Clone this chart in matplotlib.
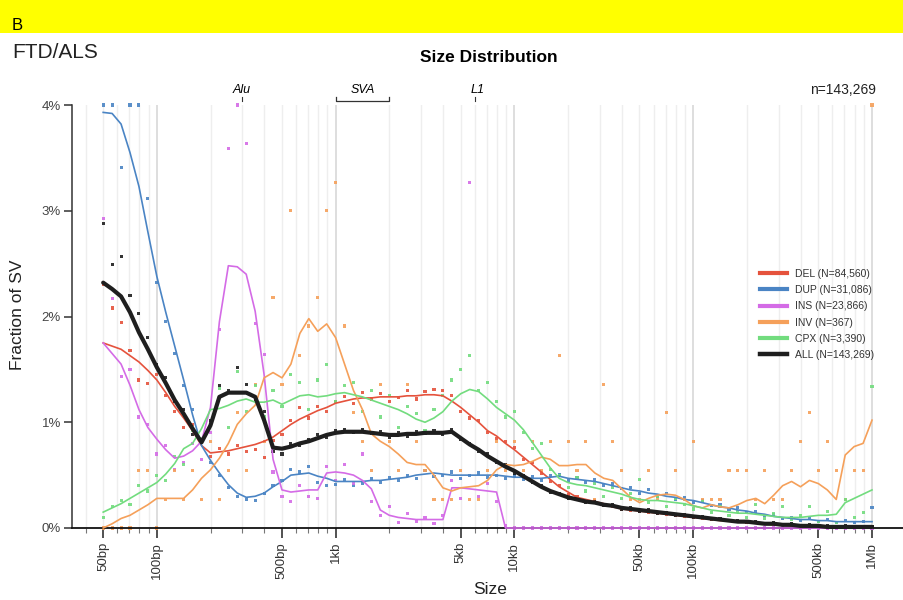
import numpy as np
import matplotlib
matplotlib.use("Agg")
import matplotlib.pyplot as plt
from matplotlib.patches import Rectangle
from matplotlib.lines import Line2D
from matplotlib.transforms import blended_transform_factory

plt.rcParams['font.family'] = ['Liberation Sans', 'DejaVu Sans']

# ---------------- data ----------------
log_size = [1.70, 1.75, 1.80, 1.85, 1.90, 1.95, 2.00, 2.05, 2.10, 2.15,
            2.20, 2.25, 2.30, 2.35, 2.40, 2.45, 2.50, 2.55, 2.60, 2.65,
            2.70, 2.75, 2.80, 2.85, 2.90, 2.95, 3.00, 3.05, 3.10, 3.15,
            3.20, 3.25, 3.30, 3.35, 3.40, 3.45, 3.50, 3.55, 3.60, 3.65,
            3.70, 3.75, 3.80, 3.85, 3.90, 3.95, 4.00, 4.05, 4.10, 4.15,
            4.20, 4.25, 4.30, 4.35, 4.40, 4.45, 4.50, 4.55, 4.60, 4.65,
            4.70, 4.75, 4.80, 4.85, 4.90, 4.95, 5.00, 5.05, 5.10, 5.15,
            5.20, 5.25, 5.30, 5.35, 5.40, 5.45, 5.50, 5.55, 5.60, 5.65,
            5.70, 5.75, 5.80, 5.85, 5.90, 5.95, 6.00]

del_line = [1.75, 1.72, 1.69, 1.63, 1.57, 1.49, 1.40, 1.28, 1.15, 1.04,
            0.92, 0.78, 0.71, 0.72, 0.73, 0.75, 0.77, 0.79, 0.82, 0.86,
            0.92, 0.98, 1.03, 1.07, 1.11, 1.14, 1.18, 1.20, 1.22, 1.23,
            1.23, 1.24, 1.24, 1.24, 1.25, 1.25, 1.26, 1.26, 1.25, 1.20,
            1.14, 1.07, 1.00, 0.92, 0.87, 0.80, 0.74, 0.67, 0.60, 0.53,
            0.46, 0.39, 0.34, 0.29, 0.27, 0.25, 0.23, 0.20, 0.18, 0.17,
            0.16, 0.15, 0.14, 0.13, 0.12, 0.11, 0.10, 0.09, 0.08, 0.07,
            0.07, 0.06, 0.05, 0.05, 0.04, 0.03, 0.03, 0.02, 0.02, 0.02,
            0.01, 0.01, 0.01, 0.01, 0.01, 0.01, 0.01]
dup_line = [3.93, 3.92, 3.82, 3.55, 3.23, 2.80, 2.38, 2.04, 1.72, 1.40,
            1.07, 0.78, 0.64, 0.52, 0.41, 0.33, 0.29, 0.30, 0.33, 0.39,
            0.44, 0.50, 0.51, 0.52, 0.49, 0.47, 0.44, 0.44, 0.44, 0.44,
            0.45, 0.45, 0.46, 0.47, 0.48, 0.50, 0.51, 0.52, 0.51, 0.50,
            0.50, 0.50, 0.50, 0.50, 0.50, 0.49, 0.48, 0.48, 0.47, 0.47,
            0.48, 0.49, 0.47, 0.46, 0.45, 0.44, 0.42, 0.40, 0.38, 0.36,
            0.35, 0.33, 0.32, 0.30, 0.29, 0.27, 0.26, 0.24, 0.22, 0.20,
            0.19, 0.17, 0.16, 0.14, 0.13, 0.11, 0.10, 0.09, 0.08, 0.08,
            0.07, 0.07, 0.06, 0.06, 0.06, 0.06, 0.06]
ins_line = [1.75, 1.65, 1.55, 1.35, 1.12, 0.95, 0.84, 0.74, 0.66, 0.68,
            0.73, 0.82, 1.14, 1.95, 2.48, 2.47, 2.40, 2.05, 1.45, 0.65,
            0.36, 0.34, 0.35, 0.36, 0.36, 0.52, 0.53, 0.52, 0.50, 0.45,
            0.37, 0.17, 0.12, 0.10, 0.09, 0.08, 0.08, 0.08, 0.08, 0.38,
            0.38, 0.37, 0.36, 0.35, 0.34, 0.00, 0.00, 0.00, 0.00, 0.00,
            0.00, 0.00, 0.00, 0.00, 0.00, 0.00, 0.00, 0.00, 0.00, 0.00,
            0.00, 0.00, 0.00, 0.00, 0.00, 0.00, 0.00, 0.00, 0.00, 0.00,
            0.00, 0.00, 0.00, 0.00, 0.00, 0.00, 0.00, 0.00, 0.00, 0.00,
            0.00, 0.00, 0.00, 0.00, 0.00, 0.00, 0.00]
inv_line = [0.00, 0.04, 0.09, 0.12, 0.17, 0.22, 0.28, 0.28, 0.28, 0.28,
            0.36, 0.47, 0.55, 0.66, 0.80, 0.98, 1.08, 1.16, 1.42, 1.47,
            1.42, 1.55, 1.84, 1.98, 1.86, 1.93, 1.80, 1.55, 1.30, 1.12,
            0.89, 0.82, 0.77, 0.70, 0.62, 0.60, 0.60, 0.50, 0.38, 0.35,
            0.38, 0.39, 0.40, 0.45, 0.55, 0.60, 0.59, 0.60, 0.63, 0.67,
            0.65, 0.59, 0.59, 0.60, 0.60, 0.52, 0.47, 0.45, 0.37, 0.29,
            0.24, 0.28, 0.31, 0.32, 0.31, 0.27, 0.21, 0.19, 0.22, 0.20,
            0.19, 0.22, 0.26, 0.28, 0.23, 0.31, 0.40, 0.44, 0.39, 0.45,
            0.42, 0.36, 0.27, 0.69, 0.77, 0.80, 1.02]
cpx_line = [0.15, 0.19, 0.23, 0.28, 0.33, 0.38, 0.43, 0.51, 0.61, 0.75,
            0.80, 0.94, 1.12, 1.13, 1.16, 1.20, 1.22, 1.19, 1.19, 1.21,
            1.17, 1.21, 1.25, 1.26, 1.24, 1.25, 1.27, 1.28, 1.26, 1.24,
            1.21, 1.18, 1.15, 1.12, 1.08, 1.03, 1.00, 1.04, 1.10, 1.20,
            1.27, 1.31, 1.29, 1.22, 1.14, 1.08, 1.02, 0.93, 0.81, 0.69,
            0.57, 0.47, 0.43, 0.41, 0.40, 0.38, 0.36, 0.34, 0.32, 0.29,
            0.27, 0.26, 0.26, 0.25, 0.24, 0.23, 0.21, 0.19, 0.17, 0.16,
            0.15, 0.14, 0.14, 0.13, 0.12, 0.11, 0.10, 0.10, 0.10, 0.11,
            0.12, 0.12, 0.13, 0.24, 0.28, 0.32, 0.36]
all_line = [2.32, 2.26, 2.19, 2.04, 1.85, 1.69, 1.52, 1.37, 1.21, 1.08,
            0.94, 0.81, 0.97, 1.24, 1.28, 1.28, 1.28, 1.24, 1.02, 0.76,
            0.75, 0.77, 0.80, 0.82, 0.85, 0.88, 0.90, 0.91, 0.91, 0.91,
            0.90, 0.89, 0.88, 0.88, 0.89, 0.89, 0.90, 0.90, 0.90, 0.91,
            0.85, 0.79, 0.74, 0.68, 0.63, 0.58, 0.54, 0.49, 0.44, 0.39,
            0.35, 0.32, 0.29, 0.27, 0.25, 0.24, 0.22, 0.21, 0.19, 0.18,
            0.17, 0.16, 0.15, 0.14, 0.13, 0.12, 0.11, 0.10, 0.09, 0.08,
            0.07, 0.06, 0.06, 0.05, 0.04, 0.04, 0.03, 0.03, 0.02, 0.02,
            0.02, 0.01, 0.01, 0.01, 0.01, 0.01, 0.01]

del_dots = [2.30, 2.08, 1.94, 1.68, 1.40, 1.37, 1.45, 1.25, 1.10, 0.95,
            0.98, 0.83, 0.68, 0.75, 0.70, 0.78, 0.72, 0.74, 0.67, 0.83,
            0.88, 1.02, 1.14, 1.04, 1.15, 1.10, 1.20, 1.24, 1.18, 1.28,
            1.22, 1.27, 1.20, 1.23, 1.30, 1.22, 1.29, 1.31, 1.30, 1.25,
            1.10, 1.04, 1.02, 0.90, 0.85, 0.82, 0.76, 0.65, 0.62, 0.52,
            0.44, 0.40, 0.32, 0.30, 0.25, 0.26, 0.22, 0.20, 0.18, 0.17,
            0.16, 0.15, 0.14, 0.13, 0.12, 0.11, 0.10, 0.09, 0.08, 0.08,
            0.07, 0.06, 0.05, 0.05, 0.04, 0.04, 0.03, 0.03, 0.02, 0.02,
            0.02, 0.01, 0.01, 0.01, 0.01, 0.01, 0.01]
dup_dots = [4.00, 4.00, 3.41, 4.00, 4.00, 3.12, 2.32, 1.95, 1.65, 1.35,
            1.12, 0.82, 0.62, 0.50, 0.38, 0.30, 0.27, 0.26, 0.33, 0.40,
            0.45, 0.55, 0.53, 0.58, 0.43, 0.40, 0.41, 0.46, 0.40, 0.42,
            0.47, 0.43, 0.48, 0.45, 0.50, 0.47, 0.54, 0.49, 0.50, 0.53,
            0.47, 0.50, 0.52, 0.48, 0.50, 0.47, 0.50, 0.46, 0.49, 0.45,
            0.50, 0.51, 0.45, 0.48, 0.43, 0.46, 0.40, 0.42, 0.37, 0.38,
            0.33, 0.36, 0.30, 0.33, 0.27, 0.29, 0.24, 0.26, 0.21, 0.22,
            0.18, 0.19, 0.15, 0.16, 0.12, 0.13, 0.09, 0.10, 0.07, 0.09,
            0.06, 0.08, 0.05, 0.07, 0.05, 0.06, 0.19]
ins_dots = [2.93, 2.17, 1.43, 1.50, 1.05, 0.98, 0.70, 0.78, 0.55, 0.62,
            0.80, 0.65, 0.90, 1.88, 3.59, 4.00, 3.64, 1.93, 1.64, 0.53,
            0.30, 0.25, 0.40, 0.30, 0.28, 0.58, 0.45, 0.60, 0.42, 0.70,
            0.25, 0.12, 0.20, 0.05, 0.14, 0.06, 0.10, 0.04, 0.12, 0.45,
            0.28, 3.27, 0.30, 0.42, 0.25, 0.02, 0.00, 0.00, 0.00, 0.00,
            0.00, 0.00, 0.00, 0.00, 0.00, 0.00, 0.00, 0.00, 0.00, 0.00,
            0.00, 0.00, 0.00, 0.00, 0.00, 0.00, 0.00, 0.00, 0.00, 0.00,
            0.00, 0.00, 0.00, 0.00, 0.00, 0.00, 0.00, 0.00, 0.00, 0.00,
            0.00, 0.00, 0.00, 0.00, 0.00, 0.00, 0.00]
inv_dots = [0.00, 0.00, 0.00, 0.00, 0.54, 0.54, 0.00, 0.27, 0.54, 0.27,
            0.54, 0.27, 0.82, 0.27, 0.54, 1.09, 0.54, 1.36, 0.82, 2.18,
            1.36, 3.00, 1.63, 1.91, 2.18, 3.00, 3.27, 1.91, 1.09, 0.82,
            0.54, 1.36, 0.82, 0.54, 1.36, 0.82, 0.54, 0.27, 0.27, 0.27,
            0.54, 0.27, 0.27, 0.54, 0.82, 0.54, 0.82, 0.54, 0.82, 0.54,
            0.82, 1.63, 0.82, 0.54, 0.82, 0.27, 1.36, 0.82, 0.54, 0.27,
            0.27, 0.54, 0.27, 1.09, 0.54, 0.27, 0.82, 0.27, 0.27, 0.27,
            0.54, 0.54, 0.54, 0.27, 0.54, 0.27, 0.27, 0.54, 0.82, 1.09,
            0.54, 0.82, 0.54, 0.27, 0.54, 0.54, 4.00]
cpx_dots = [0.10, 0.20, 0.26, 0.22, 0.40, 0.35, 0.50, 0.45, 0.68, 0.60,
            0.92, 0.85, 1.00, 1.32, 0.95, 1.48, 1.10, 1.35, 1.05, 1.30,
            1.15, 1.45, 1.38, 1.12, 1.40, 1.55, 1.20, 1.35, 1.38, 1.10,
            1.30, 1.05, 1.25, 0.95, 1.15, 1.08, 0.92, 1.12, 1.25, 1.40,
            1.50, 1.63, 1.30, 1.38, 1.20, 1.05, 1.10, 0.90, 0.75, 0.80,
            0.55, 0.50, 0.38, 0.48, 0.35, 0.42, 0.30, 0.38, 0.28, 0.33,
            0.46, 0.24, 0.30, 0.20, 0.28, 0.22, 0.18, 0.25, 0.15, 0.20,
            0.12, 0.16, 0.10, 0.22, 0.09, 0.14, 0.20, 0.08, 0.12, 0.20,
            0.06, 0.16, 0.05, 0.27, 0.10, 0.15, 1.34]
all_dots = [2.88, 2.49, 2.57, 2.20, 2.03, 1.80, 1.55, 1.42, 1.20, 1.12,
            0.88, 0.84, 1.02, 1.35, 1.30, 1.52, 1.36, 1.22, 1.10, 0.72,
            0.70, 0.80, 0.78, 0.84, 0.88, 0.86, 0.92, 0.93, 0.90, 0.93,
            0.89, 0.91, 0.86, 0.90, 0.87, 0.91, 0.89, 0.92, 0.88, 0.93,
            0.84, 0.80, 0.72, 0.70, 0.62, 0.60, 0.52, 0.50, 0.43, 0.40,
            0.34, 0.33, 0.28, 0.28, 0.24, 0.25, 0.21, 0.22, 0.18, 0.19,
            0.16, 0.17, 0.14, 0.15, 0.12, 0.13, 0.10, 0.11, 0.08, 0.09,
            0.07, 0.07, 0.05, 0.06, 0.04, 0.05, 0.03, 0.04, 0.02, 0.03,
            0.02, 0.02, 0.01, 0.02, 0.01, 0.01, 0.01]

series_names = ['DEL', 'DUP', 'INS', 'INV', 'CPX', 'ALL']
series_counts = ['84,560', '31,086', '23,866', '367', '3,390', '143,269']
total_n = '143,269'

xtick_values = [50, 100, 500, 1000, 5000, 10000, 50000, 100000, 500000, 1000000]
xtick_labels = ['50bp', '100bp', '500bp', '1kb', '5kb', '10kb', '50kb', '100kb', '500kb', '1Mb']
ytick_values = [0, 1, 2, 3, 4]
ytick_labels = ['0%', '1%', '2%', '3%', '4%']

# ---------------- style ----------------
colors = {'DEL': '#e5523c', 'DUP': '#4a84c4', 'INS': '#d46be6',
          'INV': '#f5a05a', 'CPX': '#72dc7e', 'ALL': '#1e1e1e'}
lines = {'DEL': del_line, 'DUP': dup_line, 'INS': ins_line,
         'INV': inv_line, 'CPX': cpx_line, 'ALL': all_line}
dots = {'DEL': del_dots, 'DUP': dup_dots, 'INS': ins_dots,
        'INV': inv_dots, 'CPX': cpx_dots, 'ALL': all_dots}

W, H = 904, 600
fig = plt.figure(figsize=(W / 100, H / 100), dpi=100)

def fx(px):
    return px / W

def fy(py):
    return 1 - py / H

# yellow banner
fig.patches.append(Rectangle((0, fy(33)), 1, 33 / H, transform=fig.transFigure,
                             facecolor='#ffff00', edgecolor='none', zorder=0))
fig.text(fx(12), fy(25), 'B', fontsize=12, va='center', ha='left')
fig.text(fx(12), fy(52), 'FTD/ALS', fontsize=15, va='center', ha='left', color='#222222')
fig.text(fx(489), fy(57), 'Size Distribution', fontsize=12.5, fontweight='bold',
         ha='center', va='center')

ax = fig.add_axes([fx(72), fy(528), (W - 72) / W, 423 / H])
ax.set_xscale('log')
left_log = 1.699 + (72 - 103) / 178.8
right_log = 1.699 + (904 - 103) / 178.8
ax.set_xlim(10 ** left_log, 10 ** right_log)
ax.set_ylim(0, 4)

# vertical grid lines
for k in range(1, 7):
    for m in range(1, 10):
        v = m * 10 ** k
        if v < 10 ** left_log or v > 1e6:
            continue
        if m == 1:
            ax.axvline(v, color='#d4d4d4', lw=1.1, zorder=0)
        else:
            ax.axvline(v, color='#eeeeee', lw=1.0, zorder=0)

sizes = 10 ** np.array(log_size)

for name in ['DEL', 'DUP', 'INS', 'INV', 'CPX', 'ALL']:
    ax.scatter(sizes, dots[name], marker='s', s=5, color=colors[name],
               edgecolors='none', alpha=0.9, zorder=2, clip_on=False)

for name in ['DEL', 'DUP', 'INS', 'INV', 'CPX']:
    ax.plot(sizes, lines[name], color=colors[name], lw=1.2, zorder=3,
            clip_on=False, solid_joinstyle='round')
ax.plot(sizes, lines['ALL'], color=colors['ALL'], lw=3.0, zorder=4,
        clip_on=False, solid_joinstyle='round', solid_capstyle='round')

# axes styling
for s in ['top', 'right']:
    ax.spines[s].set_visible(False)
ax.spines['left'].set_bounds(0, 4)
ax.spines['left'].set_color('#333333')
ax.spines['left'].set_linewidth(1.1)
ax.spines['bottom'].set_color('#111111')
ax.spines['bottom'].set_linewidth(1.3)

ax.set_xticks(xtick_values)
ax.set_xticklabels(xtick_labels, rotation=90, fontsize=9.5, color='#333333')
ax.xaxis.set_minor_locator(matplotlib.ticker.LogLocator(base=10, subs=range(2, 10), numticks=50))
ax.xaxis.set_minor_formatter(matplotlib.ticker.NullFormatter())
ax.tick_params(axis='x', which='major', length=7, width=1.2, color='#333333', pad=3)
ax.tick_params(axis='x', which='minor', length=3.5, width=0.8, color='#777777')
ax.set_yticks(ytick_values)
ax.set_yticklabels(ytick_labels, fontsize=9.5, color='#444444')
ax.tick_params(axis='y', length=6, width=1.1, color='#333333', pad=2)

fig.text(fx(18), fy(315), 'Fraction of SV', rotation=90, fontsize=12.5,
         ha='center', va='center', color='#222222')
fig.text(fx(490), fy(590), 'Size', fontsize=12.5, ha='center', va='center', color='#222222')

# repeat-element annotations above the axes
tr = blended_transform_factory(ax.transData, ax.transAxes)
def yax(py):
    return (528 - py) / 423

ax.text(300, yax(90), 'Alu', style='italic', fontsize=9, ha='center', va='center',
        transform=tr, clip_on=False)
ax.plot([300, 300], [yax(101), yax(97)], color='#333333', lw=0.8, transform=tr, clip_on=False)
ax.text(1414, yax(90), 'SVA', style='italic', fontsize=9, ha='center', va='center',
        transform=tr, clip_on=False)
ax.plot([1000, 1000, 2000, 2000], [yax(97), yax(101), yax(101), yax(97)], color='#333333',
        lw=0.9, transform=tr, clip_on=False)
ax.text(6200, yax(90), 'L1', style='italic', fontsize=9, ha='center', va='center',
        transform=tr, clip_on=False)
ax.plot([6000, 6000], [yax(101), yax(97)], color='#333333', lw=0.8, transform=tr, clip_on=False)

fig.text(fx(876), fy(90), 'n=' + total_n, fontsize=10, ha='right', va='center', color='#222222')

handles = [Line2D([], [], color=colors[n], lw=3.0 if n != 'ALL' else 3.2) for n in series_names]
labels = [f'{n} (N={c})' for n, c in zip(series_names, series_counts)]
ax.legend(handles, labels, loc='center left', bbox_to_anchor=(fx(760), fy(314.5)),
          bbox_transform=fig.transFigure, frameon=False, fontsize=7.5,
          handlelength=2.6, handletextpad=0.8, labelspacing=0.6,
          borderpad=0, borderaxespad=0, labelcolor='#333333')

fig.savefig('out.png', dpi=100)
